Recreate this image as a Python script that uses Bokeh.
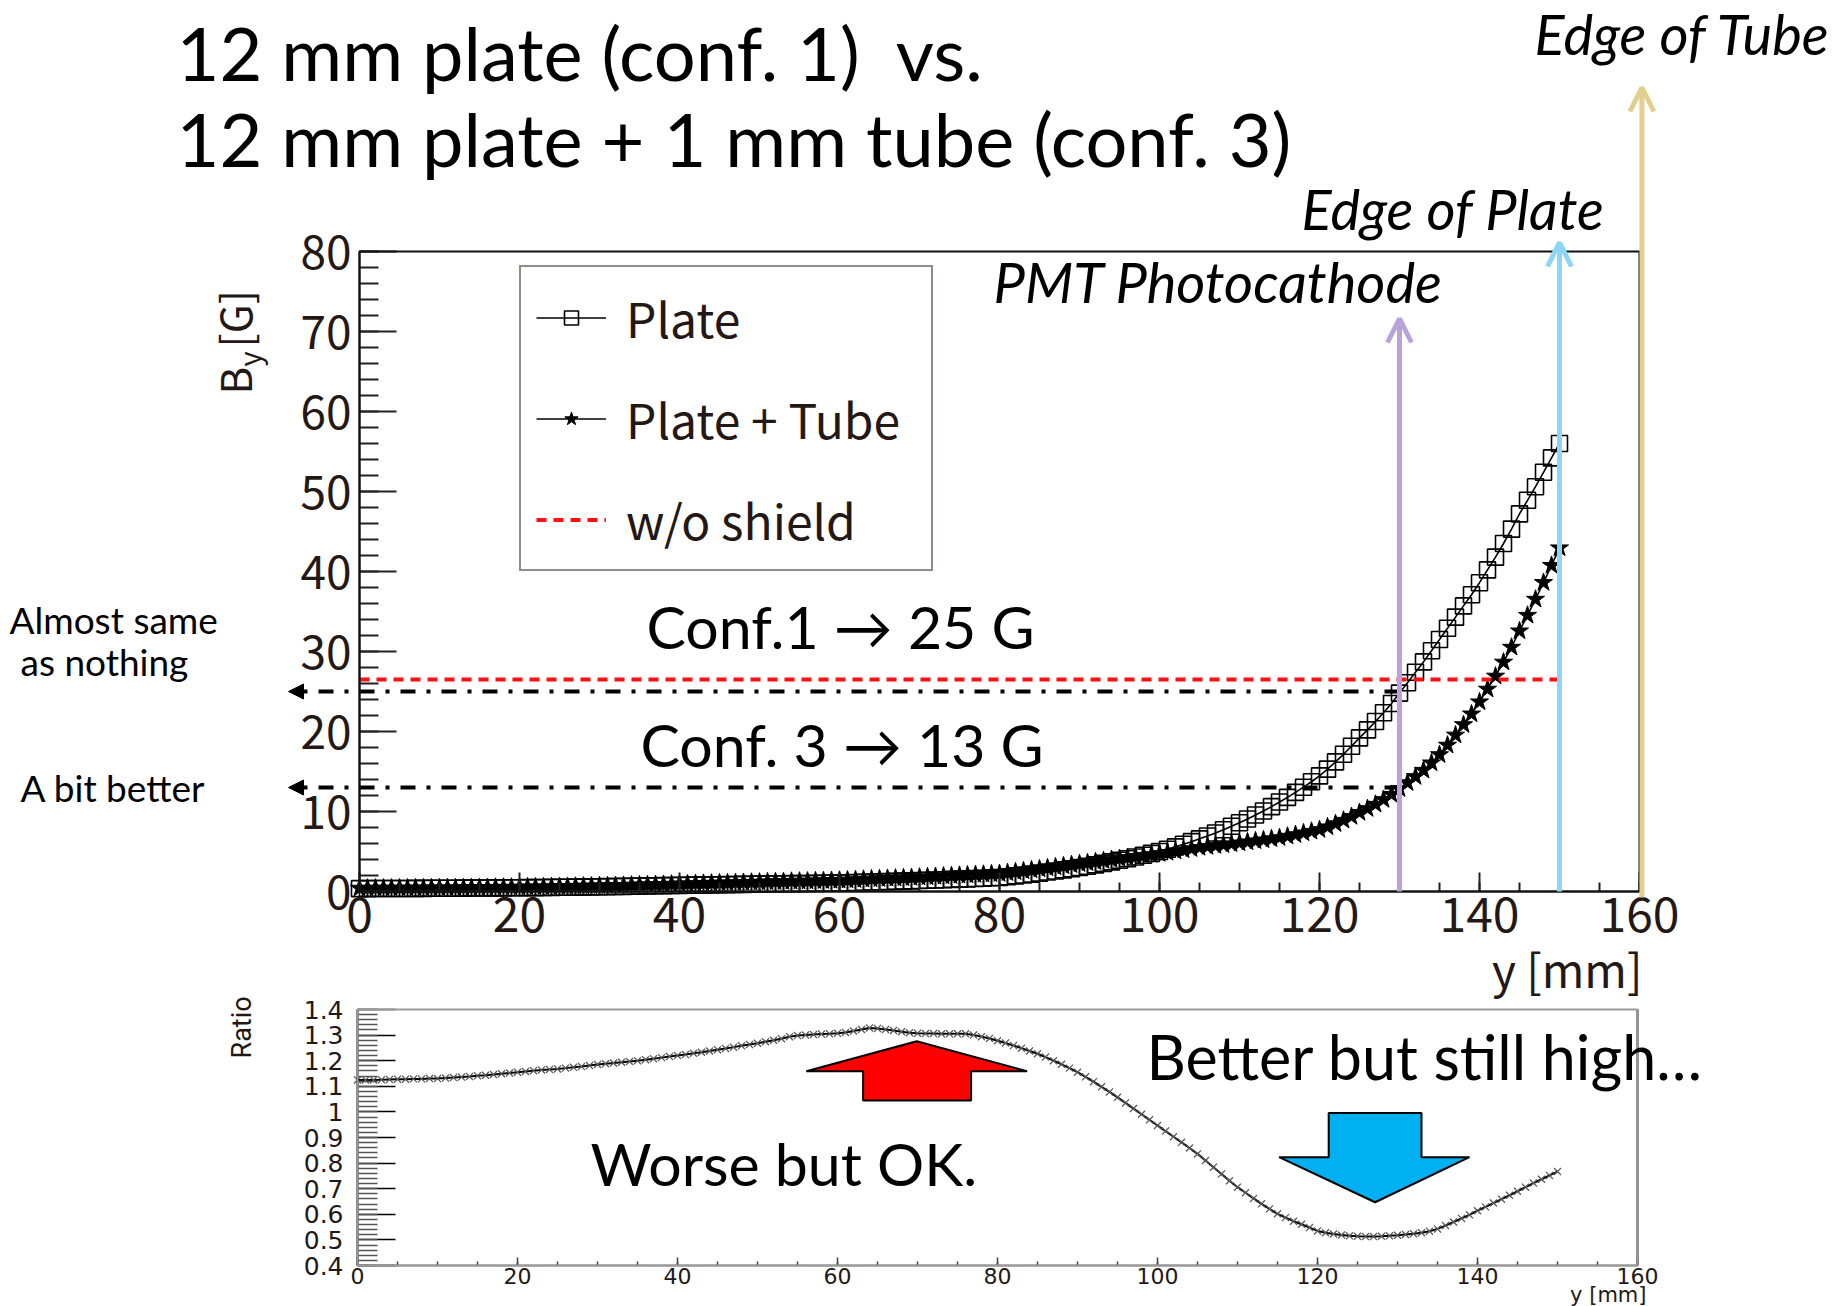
from math import pi

from bokeh.plotting import figure
from bokeh.models import (Range1d, SingleIntervalTicker, FixedTicker, LinearAxis, Label,
                          Arrow, NormalHead, OpenHead, Legend, LegendItem, BoxAnnotation,
                          CustomJSTickFormatter)
from bokeh.embed import file_html
from bokeh.resources import INLINE

# ---------------------------------------------------------------- data
y_mm = list(range(0, 151))

# B_y [G] with the 12 mm plate only (conf. 1)
plate = [
    0.36, 0.36, 0.37, 0.37, 0.37, 0.38, 0.38, 0.39, 0.39, 0.40, 0.40,
    0.41, 0.41, 0.42, 0.43, 0.43, 0.44, 0.45, 0.45, 0.46, 0.47,
    0.48, 0.49, 0.50, 0.51, 0.53, 0.54, 0.55, 0.57, 0.58, 0.60,
    0.61, 0.63, 0.64, 0.66, 0.68, 0.70, 0.71, 0.73, 0.75, 0.77,
    0.78, 0.80, 0.82, 0.83, 0.85, 0.86, 0.88, 0.89, 0.91, 0.92,
    0.94, 0.95, 0.96, 0.98, 0.99, 1.00, 1.02, 1.03, 1.05, 1.07,
    1.09, 1.12, 1.15, 1.18, 1.21, 1.24, 1.27, 1.30, 1.33, 1.37,
    1.40, 1.44, 1.47, 1.51, 1.55, 1.58, 1.62, 1.66, 1.71, 1.75,
    1.85, 1.95, 2.06, 2.17, 2.30, 2.43, 2.56, 2.70, 2.85, 3.00,
    3.16, 3.33, 3.51, 3.70, 3.90, 4.10, 4.31, 4.53, 4.76, 5.00,
    5.28, 5.58, 5.90, 6.23, 6.58, 6.94, 7.32, 7.72, 8.15, 8.60,
    9.07, 9.56, 10.07, 10.61, 11.18, 11.77, 12.39, 13.04, 13.72, 14.45,
    15.30, 16.20, 17.15, 18.15, 19.20, 20.20, 21.25, 22.35, 23.50, 24.80,
    26.10, 27.40, 28.70, 30.10, 31.50, 32.90, 34.30, 35.70, 37.10, 38.60,
    40.20, 41.80, 43.50, 45.30, 47.20, 48.90, 50.60, 52.40, 54.20, 56.00,
]

# B_y [G] with the plate plus the 1 mm tube (conf. 3)
plate_tube = [
    0.41, 0.41, 0.42, 0.42, 0.42, 0.43, 0.43, 0.44, 0.44, 0.45, 0.45,
    0.46, 0.46, 0.48, 0.49, 0.49, 0.50, 0.52, 0.52, 0.53, 0.54,
    0.56, 0.57, 0.58, 0.59, 0.62, 0.63, 0.65, 0.67, 0.68, 0.71,
    0.72, 0.75, 0.76, 0.79, 0.82, 0.84, 0.86, 0.88, 0.91, 0.94,
    0.95, 0.98, 1.01, 1.03, 1.06, 1.07, 1.10, 1.12, 1.15, 1.17,
    1.20, 1.22, 1.23, 1.27, 1.29, 1.30, 1.33, 1.34, 1.37, 1.40,
    1.43, 1.47, 1.52, 1.57, 1.60, 1.64, 1.67, 1.71, 1.74, 1.79,
    1.83, 1.88, 1.92, 1.97, 2.02, 2.06, 2.11, 2.15, 2.20, 2.24,
    2.35, 2.46, 2.57, 2.69, 2.82, 2.95, 3.07, 3.20, 3.34, 3.47,
    3.59, 3.72, 3.85, 3.99, 4.12, 4.24, 4.37, 4.49, 4.61, 4.74,
    4.88, 5.04, 5.20, 5.35, 5.50, 5.62, 5.74, 5.84, 5.96, 6.07,
    6.20, 6.33, 6.45, 6.59, 6.73, 6.91, 7.10, 7.32, 7.52, 7.73,
    8.08, 8.47, 8.90, 9.37, 9.87, 10.36, 10.90, 11.49, 12.13, 12.85,
    13.60, 14.36, 15.15, 16.07, 17.10, 18.29, 19.55, 20.85, 22.19, 23.70,
    25.29, 26.92, 28.67, 30.53, 32.57, 34.52, 36.53, 38.62, 40.76, 42.95,
]

# (plate + tube) / plate
ratio = [
    1.125, 1.125, 1.125, 1.126, 1.127, 1.128, 1.128, 1.129, 1.129, 1.130, 1.130,
    1.132, 1.134, 1.136, 1.138, 1.141, 1.143, 1.146, 1.149, 1.152, 1.155,
    1.158, 1.161, 1.164, 1.166, 1.168, 1.171, 1.174, 1.177, 1.181, 1.185,
    1.188, 1.191, 1.194, 1.197, 1.200, 1.204, 1.208, 1.212, 1.216, 1.220,
    1.224, 1.229, 1.233, 1.238, 1.243, 1.248, 1.253, 1.258, 1.263, 1.268,
    1.274, 1.280, 1.286, 1.294, 1.298, 1.300, 1.302, 1.304, 1.305, 1.307,
    1.310, 1.316, 1.322, 1.328, 1.326, 1.322, 1.318, 1.313, 1.309, 1.307,
    1.306, 1.306, 1.305, 1.305, 1.305, 1.305, 1.300, 1.294, 1.287, 1.278,
    1.269, 1.259, 1.249, 1.238, 1.227, 1.214, 1.200, 1.186, 1.171, 1.155,
    1.137, 1.118, 1.098, 1.078, 1.057, 1.035, 1.013, 0.991, 0.969, 0.947,
    0.925, 0.903, 0.881, 0.859, 0.836, 0.810, 0.784, 0.757, 0.731, 0.706,
    0.684, 0.662, 0.641, 0.621, 0.602, 0.587, 0.573, 0.561, 0.548, 0.535,
    0.528, 0.523, 0.519, 0.516, 0.514, 0.513, 0.513, 0.514, 0.516, 0.518,
    0.521, 0.524, 0.528, 0.534, 0.543, 0.556, 0.570, 0.584, 0.598, 0.614,
    0.629, 0.644, 0.659, 0.674, 0.690, 0.706, 0.722, 0.737, 0.752, 0.767,
]

# field without any shield
shield_y = [0, 150]
shield_b = [26.5, 26.5]

conf1_level = 25
conf3_level = 13

# geometry markers along y [mm]
photocathode_y = 130
plate_edge_y = 150
tube_edge_y = 160.3

# tick positions
ratio_ticks = [0.4, 0.5, 0.6, 0.7, 0.8, 0.9, 1.0, 1.1, 1.2, 1.3, 1.4]
ratio_minor = [round(0.4 + 0.02 * i, 2) for i in range(51)]

SLIDE_FONT = "Lato"
ROOT_FONT = "Noto Sans CJK JP"
AXIS_FONT = "DejaVu Sans"
INK = "#231815"

# ---------------------------------------------------------------- canvas
# One frame covers the whole page; both panels are placed with fixed axes.
W, H = 1843, 1306
MX0, MY0, MS = 359, 891, 8.0          # main panel: origin px, px per mm / per G
RX0, RY0, RS = 357, 1265, 256.0       # ratio panel: origin px (0 mm, 0.4), px per unit

p = figure(width=W, height=H,
           x_range=Range1d(-MX0 / MS, (W - MX0) / MS),
           y_range=Range1d(-(H - MY0) / MS, MY0 / MS),
           x_axis_type=None, y_axis_type=None, min_border=0,
           output_backend="svg", toolbar_location=None)
p.extra_x_ranges = {"rx": Range1d(-RX0 / 8.0, (W - RX0) / 8.0)}
p.extra_y_ranges = {"ry": Range1d(0.4 - (H - RY0) / RS, 0.4 + RY0 / RS)}
p.grid.visible = False
p.outline_line_color = None
p.background_fill_color = "white"
p.border_fill_color = "white"


def mx(px):
    return (px - MX0) / MS


def my(py):
    return (MY0 - py) / MS


def rx(px):
    return (px - RX0) / 8.0


def ry(py):
    return 0.4 + (RY0 - py) / RS


def style_axis(ax, font, size, color="#222222", width=2):
    ax.axis_line_color = color
    ax.axis_line_width = width
    ax.major_tick_line_color = color
    ax.minor_tick_line_color = color
    ax.major_tick_line_width = width
    ax.minor_tick_line_width = width
    ax.major_tick_out = 0
    ax.minor_tick_out = 0
    ax.major_label_text_font = font
    ax.major_label_text_font_size = f"{size}px"
    ax.major_label_text_color = INK


# ---------------------------------------------------------------- main panel
main_x = LinearAxis(fixed_location=0, bounds=(0, 160),
                    ticker=SingleIntervalTicker(interval=20, num_minor_ticks=4))
style_axis(main_x, ROOT_FONT, 48)
main_x.major_tick_in = 19
main_x.minor_tick_in = 9
main_x.major_label_standoff = 5
p.add_layout(main_x, "below")

main_y = LinearAxis(fixed_location=0, bounds=(0, 80),
                    ticker=SingleIntervalTicker(interval=10, num_minor_ticks=5))
style_axis(main_y, ROOT_FONT, 46)
main_y.major_tick_in = 37
main_y.minor_tick_in = 19
main_y.major_label_standoff = 8
p.add_layout(main_y, "left")

p.add_layout(BoxAnnotation(left=0, right=160, bottom=0, top=80, fill_alpha=0,
                           line_color="#111111", line_alpha=1, line_width=2))

plate_line = p.line(y_mm, plate, line_color="black", line_width=1.6)
plate_pts = p.scatter(y_mm, plate, marker="square", size=16, fill_color=None,
                      line_color="black", line_width=1.6)
tube_line = p.line(y_mm, plate_tube, line_color="black", line_width=1.6)
tube_pts = p.scatter(y_mm, plate_tube, marker="star", size=19, fill_color="black",
                     line_color="black", line_width=1)
shield_line = p.line(shield_y, shield_b, line_color="#ff1010", line_width=4,
                     line_dash="10 7")

legend = Legend(items=[
    LegendItem(label="Plate", renderers=[plate_line, plate_pts]),
    LegendItem(label="Plate + Tube", renderers=[tube_line, tube_pts]),
    LegendItem(label="w/o shield", renderers=[shield_line]),
], location=(519, H - 571))
legend.label_text_font = ROOT_FONT
legend.label_text_font_size = "48px"
legend.label_text_color = INK
legend.padding = 15
legend.glyph_width = 70
legend.glyph_height = 35
legend.label_height = 70
legend.label_width = 290
legend.label_standoff = 20
legend.spacing = 31
legend.margin = 0
legend.border_line_color = INK
legend.border_line_width = 2
legend.background_fill_alpha = 1
p.add_layout(legend, "center")

# read-off levels at the photocathode, pointing back to the B_y axis
for level in (conf1_level, conf3_level):
    p.add_layout(Arrow(x_start=photocathode_y, y_start=level, x_end=mx(288), y_end=level,
                       line_color="black", line_width=4, line_dash="15 11 4 11",
                       end=NormalHead(size=15, fill_color="black", line_color="black",
                                      line_width=1)))

# geometry markers
for ypos, base, tip, color in ((photocathode_y, 0, my(318), "#b9a3d8"),
                               (plate_edge_y, 0, my(242), "#8fd6f4"),
                               (tube_edge_y, my(897), my(87), "#e3cf90")):
    p.add_layout(Arrow(x_start=ypos, y_start=base, x_end=ypos, y_end=tip,
                       line_color=color, line_width=5,
                       end=OpenHead(size=24, line_color=color, line_width=5)))

# ---------------------------------------------------------------- ratio panel
ratio_x = LinearAxis(x_range_name="rx", y_range_name="ry", fixed_location=0.4,
                     bounds=(0, 160),
                     ticker=SingleIntervalTicker(interval=20, num_minor_ticks=4))
style_axis(ratio_x, AXIS_FONT, 22, color="#8a8a8a")
ratio_x.major_tick_line_color = "#444444"
ratio_x.minor_tick_line_color = "#444444"
ratio_x.major_tick_line_width = 1.5
ratio_x.minor_tick_line_width = 1.5
ratio_x.major_tick_in = 8
ratio_x.minor_tick_in = 4
ratio_x.major_label_standoff = 2
p.add_layout(ratio_x, "below")

ratio_y = LinearAxis(x_range_name="rx", y_range_name="ry", fixed_location=0,
                     bounds=(0.4, 1.4),
                     ticker=FixedTicker(ticks=ratio_ticks, minor_ticks=ratio_minor))
style_axis(ratio_y, AXIS_FONT, 25, color="black")
ratio_y.minor_tick_line_color = "#555555"
ratio_y.major_tick_line_width = 1.5
ratio_y.minor_tick_line_width = 1.5
ratio_y.major_tick_in = 38
ratio_y.minor_tick_in = 20
ratio_y.major_label_standoff = 14
ratio_y.formatter = CustomJSTickFormatter(
    code="return Math.abs(tick - 1) < 1e-6 ? '1' : tick.toFixed(1);")
p.add_layout(ratio_y, "left")

p.add_layout(BoxAnnotation(left=0, right=160, bottom=0.4, top=1.4, fill_alpha=0,
                           line_color="#9a9a9a", line_alpha=1, line_width=2,
                           x_range_name="rx", y_range_name="ry"))
p.segment(x0=[160], y0=[0.4], x1=[160], y1=[1.4], line_color="#111111", line_width=2,
          x_range_name="rx", y_range_name="ry")

p.line(y_mm, ratio, line_color="black", line_width=2,
       x_range_name="rx", y_range_name="ry")
p.scatter(y_mm, ratio, marker="x", size=10, line_color="#5a5a5a", line_width=1.3,
          x_range_name="rx", y_range_name="ry")

# red "up" arrow and blue "down" arrow
p.patch([56.1, 69.9, 83.7, 76.7, 76.7, 63.2, 63.2],
        [1.159, 1.276, 1.159, 1.159, 1.045, 1.045, 1.159],
        fill_color="#ff0000", line_color="black", line_width=2,
        x_range_name="rx", y_range_name="ry")
p.patch([121.4, 133.0, 133.0, 139.0, 127.2, 115.2, 121.4],
        [0.996, 0.996, 0.823, 0.823, 0.647, 0.823, 0.823],
        fill_color="#00b0f0", line_color="black", line_width=2,
        x_range_name="rx", y_range_name="ry")


# ---------------------------------------------------------------- texts
def label(text, px, py, size, font=SLIDE_FONT, style="normal", align="left",
          vertical=False, color="black", panel="main"):
    # px, py give the baseline start point on the page
    if vertical:
        px = px - 0.4 * size
    else:
        py = py - 0.4 * size
    if panel == "main":
        kw = dict(x=mx(px), y=my(py))
    else:
        kw = dict(x=rx(px), y=ry(py), x_range_name="rx", y_range_name="ry")
    p.add_layout(Label(text=text, text_font=font, text_font_size=f"{size}px",
                       text_font_style=style, text_align=align,
                       text_baseline="alphabetic", angle=pi / 2 if vertical else 0,
                       text_color=color, **kw))


label("12 mm plate (conf. 1)\u00a0 vs.", 176, 82, 74)
label("12 mm plate + 1 mm tube (conf. 3)", 176, 168, 74)
label("Edge of Tube", 1534, 55, 56, style="italic")
label("Edge of Plate", 1301, 230, 56, style="italic")
label("PMT Photocathode", 993, 303, 56, style="italic")
label("Conf.1 \u2192 25 G", 646, 650, 59)
label("Conf. 3 \u2192 13 G", 640, 768, 59)
label("Almost same", 9, 634, 37)
label("as nothing", 20, 676, 37)
label("A bit better", 20, 802, 37)

label("y [mm]", 1642, 986, 46, font=ROOT_FONT, align="right", color=INK)
label("B", 250, 394, 42, font=ROOT_FONT, vertical=True, color=INK)
label("y", 259, 366, 29, font=ROOT_FONT, vertical=True, color=INK)
label("[G]", 250, 347, 42, font=ROOT_FONT, vertical=True, color=INK)

label("Worse but OK.", 590, 1187, 59, panel="ratio")
label("Better but still high\u2026", 1146, 1080, 61, panel="ratio")
label("Ratio", 252, 1058, 27, font="Roboto", vertical=True, color=INK, panel="ratio")
label("y [mm]", 1646, 1303, 21, font=AXIS_FONT, align="right", color=INK, panel="ratio")

open("out.html", "w").write(file_html(p, INLINE))
